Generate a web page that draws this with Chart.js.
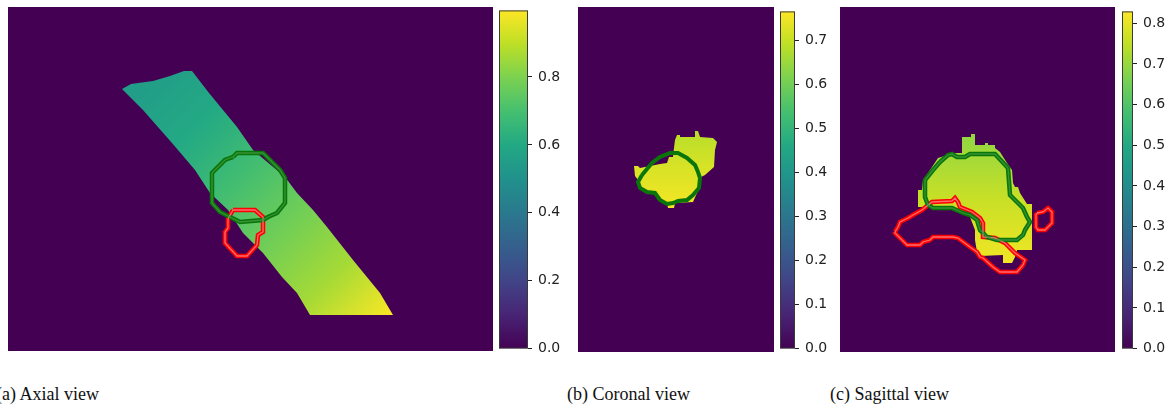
<!DOCTYPE html>
<html>
<head>
<meta charset="utf-8">
<script src="https://cdn.jsdelivr.net/npm/chart.js@4.4.1/dist/chart.umd.min.js"></script>
<style>
  body { margin: 0; background: #fff; }
  #fig { position: relative; width: 1173px; height: 410px; overflow: hidden; }
  .box { position: absolute; }
  .cap { position: absolute; top: 384px; line-height: 21px; font: 18px "Liberation Serif", serif; color: #111; white-space: nowrap; }
</style>
</head>
<body>
<div id="fig">
  <div class="box" style="left:8px;top:7px;width:485px;height:344px"><canvas id="axial"></canvas></div>
  <div class="box" style="left:499px;top:-4px;width:69px;height:367px"><canvas id="axialBar"></canvas></div>
  <div class="box" style="left:578px;top:7px;width:196px;height:345px"><canvas id="coronal"></canvas></div>
  <div class="box" style="left:780px;top:-3px;width:55px;height:366px"><canvas id="coronalBar"></canvas></div>
  <div class="box" style="left:840px;top:7px;width:275px;height:345px"><canvas id="sagittal"></canvas></div>
  <div class="box" style="left:1122px;top:-3px;width:51px;height:366px"><canvas id="sagittalBar"></canvas></div>
  <div class="cap" style="left:-4px">(a) Axial view</div>
  <div class="cap" style="left:567px">(b) Coronal view</div>
  <div class="cap" style="left:830px">(c) Sagittal view</div>
</div>
<script>
// image size of each slice (pixels of the figure)
const axialSize = [485, 344];
const coronalSize = [196, 345];
const sagittalSize = [275, 345];

// colour bar ranges and ticks
const axialMax = 0.996;
const coronalMax = 0.767;
const sagittalMax = 0.829;
const axialTicks = [0, 0.2, 0.4, 0.6, 0.8];
const coronalTicks = [0, 0.1, 0.2, 0.3, 0.4, 0.5, 0.6, 0.7];
const sagittalTicks = [0, 0.1, 0.2, 0.3, 0.4, 0.5, 0.6, 0.7, 0.8];

// axial: oblique band of values, plus green and red contours
const axialBand = [[114,82],[123,77],[145,74],[162,69],[176,64],[184,64],[201,86],[229,120],[245,143],[277,170],[289,186],[305,203],[319,220],[345,253],[372,286],[385,308],[302,308],[289,286],[274,270],[255,246],[235,226],[220,203],[202,186],[187,163],[164,136],[135,103]];
const axialBandValues = [0.55, 0.6, 0.69, 0.78, 0.86, 0.99];
const axialBandAxis = [[140,72],[380,310]];
const axialGreen = [[225,150],[229,146],[255,146],[272,163],[277,171],[277,196],[269,206],[260,210],[255,213],[232,215],[222,210],[212,205],[204,196],[204,166],[217,153],[222,151]];
const axialRed = [[225,203],[247,203],[255,210],[255,225],[250,228],[249,238],[239,249],[229,249],[217,236],[217,225],[220,221],[220,212]];

// coronal
const coronalBlob = [[99,128],[102,128],[102,130],[117,130],[117,124],[120,124],[122,130],[135,131],[139,135],[137,143],[136,160],[127,168],[123,170],[123,180],[119,186],[115,195],[97,196],[96,201],[90,201],[89,196],[80,193],[77,188],[70,185],[62,180],[60,173],[57,169],[56,159],[60,159],[62,161],[72,159],[82,157],[89,156],[91,150],[95,150],[96,141],[97,133]];
const coronalBlobValues = [0.683, 0.725, 0.755];
const coronalBlobAxis = [[0,124],[0,201]];
const coronalGreen = [[64,168],[74,156],[82,150],[92,146],[100,146],[109,151],[117,158],[120,165],[122,171],[121,181],[115,188],[109,193],[100,194],[95,196],[89,197],[82,193],[77,186],[69,185],[62,181],[60,175]];

// sagittal
const sagittalBlob = [[122,130],[131,130],[131,127],[135,127],[135,138],[145,138],[145,136],[148,136],[148,138],[155,138],[155,141],[160,145],[167,156],[172,163],[173,176],[175,180],[178,180],[180,186],[187,197],[192,197],[192,243],[177,243],[175,250],[172,256],[163,256],[163,248],[140,249],[137,245],[135,233],[135,223],[130,210],[112,203],[92,200],[78,200],[78,183],[82,183],[83,173],[90,163],[98,151],[108,148],[110,146],[122,146]];
const sagittalBlobValues = [0.69, 0.76, 0.815];
const sagittalBlobAxis = [[0,127],[0,258]];
const sagittalGreen = [[100,155],[108,148],[112,147],[117,150],[125,150],[130,147],[155,147],[168,161],[170,188],[177,195],[183,201],[187,210],[190,215],[185,223],[183,228],[177,233],[157,233],[147,230],[140,223],[137,213],[130,208],[123,206],[112,201],[93,201],[88,198],[85,190],[85,173],[93,163]];
const sagittalRed = [[55,225],[58,220],[60,215],[68,211],[73,208],[82,203],[92,195],[112,194],[115,191],[118,195],[120,200],[132,205],[140,211],[143,216],[143,230],[155,231],[165,236],[175,246],[185,253],[183,258],[177,265],[160,265],[153,260],[143,251],[140,250],[137,245],[130,240],[118,231],[113,230],[93,230],[90,233],[83,235],[80,238],[67,238],[62,233],[55,226]];
const sagittalRedSmall = [[197,206],[203,205],[208,201],[212,205],[212,216],[205,223],[198,223],[196,220],[196,208]];

const viridis = ['#440154','#482475','#414487','#355f8d','#2a788e','#21918c','#22a884','#44bf70','#7ad151','#bddf26','#fde725'];

function viridisAt(t) {
  t = Math.min(1, Math.max(0, t)) * (viridis.length - 1);
  const i = Math.min(Math.floor(t), viridis.length - 2);
  const f = t - i;
  const a = viridis[i], b = viridis[i + 1];
  const c = k => Math.round(parseInt(a.substr(k, 2), 16) * (1 - f) + parseInt(b.substr(k, 2), 16) * f);
  return `rgb(${c(1)},${c(3)},${c(5)})`;
}

function shadeAlong(chart, axis, values, max) {
  const { x, y } = chart.scales;
  if (!chart.chartArea || !x) return 'transparent';
  const [from, to] = axis;
  const g = chart.ctx.createLinearGradient(
    x.getPixelForValue(from[0]), y.getPixelForValue(from[1]),
    x.getPixelForValue(to[0] || from[0]), y.getPixelForValue(to[1])
  );
  values.forEach((v, i) => g.addColorStop(i / (values.length - 1), viridisAt(v / max)));
  return g;
}

const toXY = pts => pts.concat([pts[0]]).map(([x, y]) => ({ x, y }));

function region(points, axis, values, max) {
  return {
    data: toXY(points),
    borderWidth: 0,
    borderColor: 'transparent',
    fill: 'shape',
    backgroundColor: ctx => shadeAlong(ctx.chart, axis, values, max),
    order: 3,
  };
}

function contour(points, color, core) {
  const sets = [{ data: toXY(points), borderColor: color, borderWidth: core ? 4.5 : 4, fill: false, order: 2 }];
  if (core) sets.push({ data: toXY(points), borderColor: core, borderWidth: 1.3, fill: false, order: 1 });
  return sets;
}

const backdrop = {
  id: 'backdrop',
  beforeDraw(chart) {
    const { ctx, chartArea: a } = chart;
    ctx.save();
    ctx.fillStyle = viridis[0];
    ctx.fillRect(a.left, a.top, a.width, a.height);
    ctx.restore();
  },
};

const frame = {
  id: 'frame',
  afterDraw(chart) {
    const { ctx, chartArea: a } = chart;
    ctx.save();
    ctx.strokeStyle = '#3a3a3a';
    ctx.lineWidth = 1;
    ctx.strokeRect(a.left + 0.5, a.top + 0.5, a.width - 1, a.height - 1);
    ctx.restore();
  },
};

function heatmap(id, size, datasets) {
  return new Chart(document.getElementById(id), {
    type: 'line',
    data: { datasets },
    options: {
      responsive: true,
      maintainAspectRatio: false,
      animation: false,
      events: [],
      layout: { padding: 0 },
      elements: { point: { radius: 0 }, line: { tension: 0 } },
      plugins: { legend: { display: false }, tooltip: { enabled: false } },
      scales: {
        x: { type: 'linear', min: 0, max: size[0], display: false },
        y: { type: 'linear', min: 0, max: size[1], reverse: true, display: false },
      },
    },
    plugins: [backdrop],
  });
}

function colorbar(id, max, ticks) {
  return new Chart(document.getElementById(id), {
    type: 'bar',
    data: {
      labels: [''],
      datasets: [{
        data: [max],
        borderWidth: 0,
        barPercentage: 1,
        categoryPercentage: 1,
        backgroundColor: ({ chart }) => {
          const y = chart.scales.y;
          if (!chart.chartArea || !y) return 'transparent';
          const g = chart.ctx.createLinearGradient(0, y.getPixelForValue(0), 0, y.getPixelForValue(max));
          viridis.forEach((c, i) => g.addColorStop(i / (viridis.length - 1), c));
          return g;
        },
      }],
    },
    options: {
      responsive: true,
      maintainAspectRatio: false,
      animation: false,
      events: [],
      layout: { padding: { top: 10, bottom: 10, left: 0, right: 0 } },
      plugins: { legend: { display: false }, tooltip: { enabled: false } },
      scales: {
        x: { display: false },
        y: {
          position: 'right',
          min: 0,
          max,
          border: { display: false },
          grid: { drawOnChartArea: false, tickLength: 4, tickColor: '#222', tickWidth: 1 },
          afterBuildTicks: scale => { scale.ticks = ticks.map(value => ({ value })); },
          afterFit: scale => { scale.width = 40; },
          ticks: {
            padding: 6,
            color: '#222',
            font: { family: 'DejaVu Sans', size: 14 },
            callback: v => v.toFixed(1),
          },
        },
      },
    },
    plugins: [frame],
  });
}

heatmap('axial', axialSize, [
  ...contour(axialGreen, '#0a760a', 'rgba(60,150,60,0.9)'),
  ...contour(axialRed, '#ff0000', 'rgba(255,120,120,0.9)'),
  region(axialBand, axialBandAxis, axialBandValues, axialMax),
]);
heatmap('coronal', coronalSize, [
  ...contour(coronalGreen, '#0a760a'),
  region(coronalBlob, coronalBlobAxis, coronalBlobValues, coronalMax),
]);
heatmap('sagittal', sagittalSize, [
  ...contour(sagittalGreen, '#0a760a', 'rgba(60,150,60,0.9)'),
  ...contour(sagittalRed, '#ff0000', 'rgba(255,120,120,0.9)'),
  ...contour(sagittalRedSmall, '#ff0000', 'rgba(255,120,120,0.9)'),
  region(sagittalBlob, sagittalBlobAxis, sagittalBlobValues, sagittalMax),
]);

colorbar('axialBar', axialMax, axialTicks);
colorbar('coronalBar', coronalMax, coronalTicks);
colorbar('sagittalBar', sagittalMax, sagittalTicks);
</script>
</body>
</html>
